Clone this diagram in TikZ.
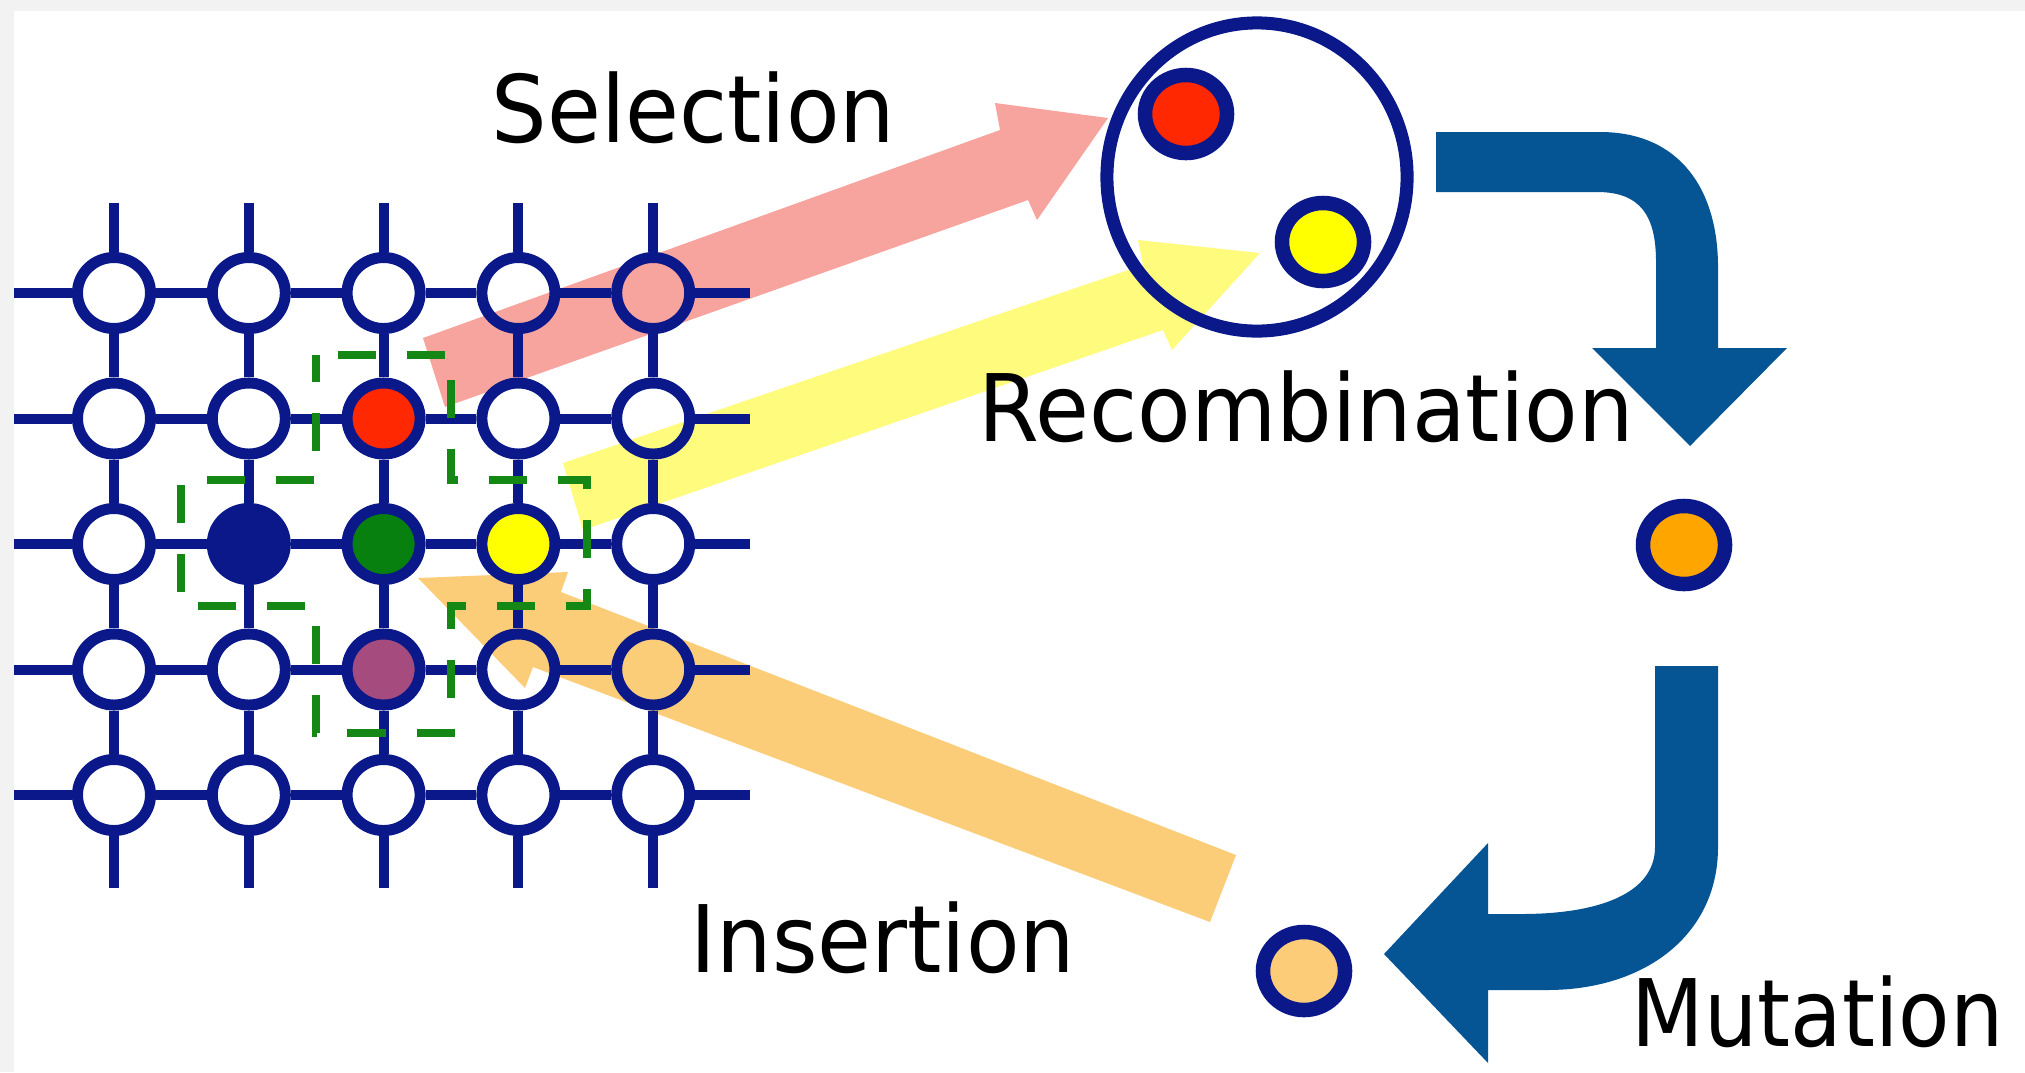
\documentclass[tikz,border=0pt]{standalone}
\usepackage{fontspec}
\setmainfont{DejaVu Sans}[FakeStretch=0.94]
\usetikzlibrary{shapes.geometric}

\definecolor{framegray}{RGB}{242,242,242}
\definecolor{latnavy}{RGB}{10,24,138}
\definecolor{flowblue}{RGB}{5,84,148}
\definecolor{nodered}{RGB}{255,40,0}
\definecolor{nodegreen}{RGB}{8,128,16}
\definecolor{nodeyellow}{RGB}{255,255,0}
\definecolor{nodepurple}{RGB}{165,75,125}
\definecolor{dashgreen}{RGB}{20,135,20}
\definecolor{childorange}{RGB}{255,165,0}
\definecolor{paleorange}{RGB}{252,204,120}
\definecolor{selcol}{RGB}{247,163,158}
\definecolor{reccol}{RGB}{255,252,125}
\definecolor{inscol}{RGB}{252,205,120}

% fill colours of the occupied lattice sites
\expandafter\def\csname sitefill32\endcsname{nodered}
\expandafter\def\csname sitefill23\endcsname{latnavy}
\expandafter\def\csname sitefill33\endcsname{nodegreen}
\expandafter\def\csname sitefill43\endcsname{nodeyellow}
\expandafter\def\csname sitefill34\endcsname{nodepurple}

\tikzset{
  cell/.style={ellipse, draw=latnavy, line width=0.11cm,
    minimum width=0.73cm, minimum height=0.71cm, inner sep=0pt},
  gridline/.style={draw=latnavy, line width=0.10cm},
  hood/.style={draw=dashgreen, line width=0.085cm, dash pattern=on 0.38cm off 0.31cm, dash phase=0.47cm},
  ring/.style={ellipse, draw=latnavy, line width=0.145cm,
    minimum width=0.82cm, minimum height=0.78cm, inner sep=0pt},
  lbl/.style={font=\fontsize{26.5}{30}\selectfont, inner sep=0pt, anchor=base west, text=black}
}

\begin{document}
\begin{tikzpicture}[x=0.01cm,y=-0.01cm]
\useasboundingbox (0,0) rectangle (2025,1072);
\fill[white] (0,0) rectangle (2025,1072);
\fill[framegray] (0,0) rectangle (2025,11);
\fill[framegray] (0,0) rectangle (14,1072);

% translucent-looking block arrows, drawn beneath the lattice
\fill[selcol] (423,338) -- (1000,130) -- (995,103) -- (1108,118) -- (1037,220)
  -- (1028,200) -- (445,407) -- cycle;
\fill[reccol] (563,463) -- (1143,265) -- (1138,240) -- (1260,253) -- (1172,350)
  -- (1163,330) -- (583,530) -- cycle;
\fill[inscol] (418,578) -- (568,572) -- (561,592) -- (1236,855) -- (1210,922)
  -- (533,667) -- (525,688) -- cycle;

% lattice sites
\foreach \i in {1,...,5}{
  \foreach \j in {1,...,5}{
    \pgfmathsetmacro\px{114+134.8*(\i-1)}
    \pgfmathsetmacro\py{293+125.5*(\j-1)}
    \def\fc{none}
    \ifcsname sitefill\i\j\endcsname \edef\fc{\csname sitefill\i\j\endcsname}\fi
    \node[cell, fill=\fc] (c\i\j) at (\px,\py) {};
  }
}

% free ends of the lattice lines
\foreach \j in {1,...,5}{
  \pgfmathsetmacro\py{293+125.5*(\j-1)}
  \coordinate (hl\j) at (14,\py);
  \coordinate (hr\j) at (750,\py);
}
\foreach \i in {1,...,5}{
  \pgfmathsetmacro\px{114+134.8*(\i-1)}
  \coordinate (vt\i) at (\px,203);
  \coordinate (vb\i) at (\px,888);
}

% lattice bonds
\foreach \j in {1,...,5}{
  \draw[gridline] (hl\j) -- (c1\j);
  \draw[gridline] (c5\j) -- (hr\j);
  \foreach \i [evaluate=\i as \k using int(\i+1)] in {1,...,4}{
    \draw[gridline] (c\i\j) -- (c\k\j);
  }
}
\foreach \i in {1,...,5}{
  \draw[gridline] (vt\i) -- (c\i1);
  \draw[gridline] (c\i5) -- (vb\i);
  \foreach \j [evaluate=\j as \k using int(\j+1)] in {1,...,4}{
    \draw[gridline] (c\i\j) -- (c\i\k);
  }
}

% von Neumann neighbourhood of the centre site
\draw[hood] (316,355) -- (451,355) -- (451,480) -- (587,480) -- (587,606)
  -- (451,606) -- (451,733) -- (316,733) -- (316,606) -- (181,606)
  -- (181,480) -- (316,480) -- cycle;

% selected parents
\node[ellipse, draw=latnavy, line width=0.13cm, minimum width=3.00cm,
  minimum height=3.08cm, inner sep=0pt] (pool) at (1257,177) {};
\node[ring, fill=nodered] (p1) at (1186,114) {};
\node[ring, fill=nodeyellow] (p2) at (1323,242) {};

% offspring
\node[ring, fill=childorange] (child) at (1684,545) {};
\node[ring, fill=paleorange] (mutant) at (1304,971) {};

% bent flow arrows
\fill[flowblue] (1436,132) -- (1600,132) .. controls (1680,132) and (1718,190) .. (1718,267)
  -- (1718,348) -- (1787,348) -- (1690,446) -- (1592,348) -- (1656,348) -- (1656,262)
  .. controls (1656,215) and (1640,192) .. (1597,192) -- (1436,192) -- cycle;
\fill[flowblue] (1655,666) -- (1718,666) -- (1718,847)
  .. controls (1718,935) and (1645,990) .. (1547,990) -- (1488,990) -- (1488,1063)
  -- (1384,954) -- (1488,843) -- (1488,914) -- (1521,914)
  .. controls (1600,914) and (1655,893) .. (1655,847) -- cycle;

% stage labels
\node[lbl] (tsel) at (491,142) {Selection};
\node[lbl] (trec) at (978,441) {Recombination};
\node[lbl] (tins) at (690,972) {Insertion};
\node[lbl, anchor=base east] (tmut) at (2004,1046) {\scalebox{0.96}[1]{Mutation}};
\end{tikzpicture}
\end{document}
